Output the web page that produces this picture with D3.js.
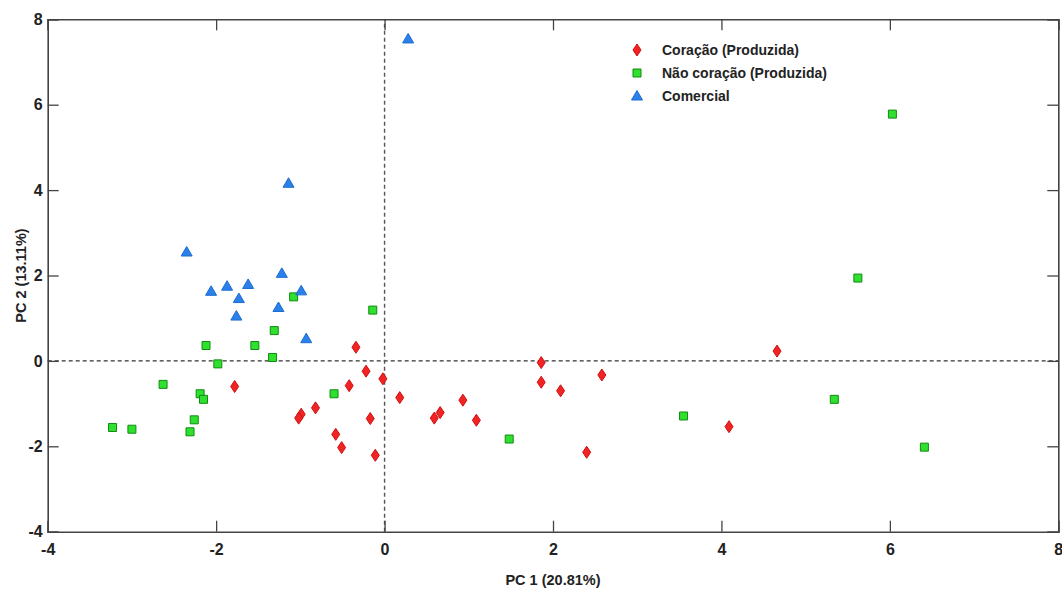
<!DOCTYPE html>
<html><head><meta charset="utf-8">
<script src="https://cdn.jsdelivr.net/npm/d3@7"></script>
<style>body{margin:0;background:#fff}svg{display:block}text{font-family:"Liberation Sans",Arial,sans-serif}</style>
</head><body><svg id="c" width="1062" height="591"></svg>
<script>
const coracaoX = [-1.78,-0.34,-0.22,-0.02,-0.42,-0.82,-0.99,-1.02,-0.17,-0.58,-0.51,-0.11,0.18,0.59,0.66,0.93,1.09,1.86,1.86,2.09,2.58,2.40,4.09,4.66];
const coracaoY = [-0.60,0.32,-0.24,-0.42,-0.58,-1.10,-1.25,-1.34,-1.35,-1.72,-2.03,-2.21,-0.86,-1.34,-1.21,-0.92,-1.39,-0.04,-0.50,-0.70,-0.33,-2.14,-1.54,0.23];
const naoX = [-1.08,-1.31,-2.12,-1.54,-1.33,-1.98,-2.63,-2.19,-2.15,-2.26,-2.31,-3.23,-3.00,-0.14,-0.60,1.48,3.55,5.34,6.41,6.03,5.62];
const naoY = [1.50,0.71,0.36,0.36,0.08,-0.07,-0.55,-0.77,-0.90,-1.38,-1.66,-1.56,-1.60,1.19,-0.77,-1.83,-1.29,-0.90,-2.02,5.78,1.94];
const comX = [-2.35,-2.06,-1.87,-1.62,-1.73,-1.76,-1.22,-0.99,-1.26,-0.93,-1.14,0.28];
const comY = [2.55,1.63,1.75,1.79,1.46,1.05,2.05,1.64,1.25,0.52,4.16,7.54];
const seriesNames = ["Coração (Produzida)","Não coração (Produzida)","Comercial"];
const xTicks = [-4,-2,0,2,4,6,8];
const yTicks = [-4,-2,0,2,4,6,8];
const xTitle = "PC 1 (20.81%)";
const yTitle = "PC 2 (13.11%)";

const svg = d3.select("#c");
const L=47.7,R=1058.3,T=19.3,B=531.7;
const x = d3.scaleLinear().domain([-4,8]).range([L,R]);
const y = d3.scaleLinear().domain([-4,8]).range([B,T]);
const axisCol="#444";

svg.append("line").attr("x1",x(-4)).attr("x2",x(8)).attr("y1",y(0)).attr("y2",y(0))
  .attr("stroke","#333").attr("stroke-width",1.2).attr("stroke-dasharray","4,3");
svg.append("line").attr("x1",x(0)).attr("x2",x(0)).attr("y1",y(-4)).attr("y2",y(8))
  .attr("stroke","#555").attr("stroke-width",1.4).attr("stroke-dasharray","4,3");

const fmt = d=>String(d);
const gB = svg.append("g").attr("transform",`translate(0,${B})`).call(d3.axisBottom(x).tickValues(xTicks).tickSize(-11).tickPadding(12).tickFormat(fmt));
const gT = svg.append("g").attr("transform",`translate(0,${T})`).call(d3.axisTop(x).tickValues(xTicks).tickSize(-11).tickFormat(""));
const gL = svg.append("g").attr("transform",`translate(${L},0)`).call(d3.axisLeft(y).tickValues(yTicks).tickSize(-11).tickPadding(5).tickFormat(fmt));
const gR = svg.append("g").attr("transform",`translate(${R},0)`).call(d3.axisRight(y).tickValues(yTicks).tickSize(-11).tickFormat(""));
[gB,gT,gL,gR].forEach(g=>{
  g.select(".domain").attr("stroke",axisCol).attr("stroke-width",1.6);
  g.selectAll(".tick line").attr("stroke",axisCol).attr("stroke-width",1.3);
  g.selectAll(".tick text").attr("fill","#222").style("font-size","16px").style("font-weight","bold");
});

svg.append("text").attr("x",(L+R)/2).attr("y",585).attr("text-anchor","middle")
  .style("font-size","14.5px").style("font-weight","bold").attr("fill","#222").text(xTitle);
svg.append("text").attr("transform",`translate(26,${(T+B)/2}) rotate(-90)`).attr("text-anchor","middle")
  .style("font-size","14.5px").style("font-weight","bold").attr("fill","#222").text(yTitle);

const diamond = "M0,-6L4,0L0,6L-4,0Z";
const square = "M-4,-4H4V4H-4Z";
const tri = "M0,-5.5L5.5,4L-5.5,4Z";
const styles = [
  {path:diamond, fill:"#f02424", stroke:"#d01010"},
  {path:square, fill:"#2fe02f", stroke:"#138a13"},
  {path:tri, fill:"#2b80ea", stroke:"#1c6cd0"}
];
const data = [d3.zip(coracaoX,coracaoY), d3.zip(naoX,naoY), d3.zip(comX,comY)];
data.forEach((pts,i)=>{
  svg.append("g").selectAll("path").data(pts).join("path")
    .attr("d",styles[i].path).attr("transform",d=>`translate(${x(d[0])},${y(d[1])})`)
    .attr("fill",styles[i].fill).attr("stroke",styles[i].stroke).attr("stroke-width",1);
});

const lg = svg.append("g");
seriesNames.forEach((n,i)=>{
  const yy = 50 + i*23;
  lg.append("path").attr("d",styles[i].path).attr("transform",`translate(637,${yy})`)
    .attr("fill",styles[i].fill).attr("stroke",styles[i].stroke).attr("stroke-width",1);
  lg.append("text").attr("x",662).attr("y",yy+5).style("font-size","14px").style("font-weight","bold")
    .attr("fill","#222").text(n);
});
</script></body></html>
